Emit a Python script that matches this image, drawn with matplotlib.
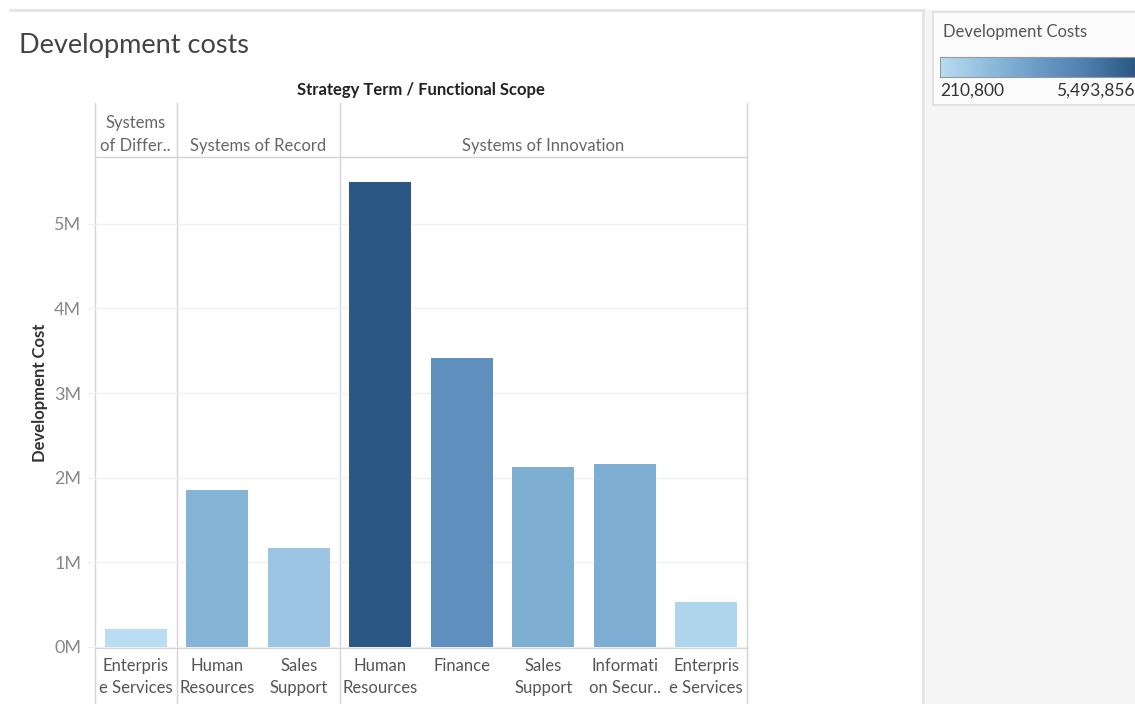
import matplotlib.pyplot as plt
import numpy as np
from matplotlib.colors import LinearSegmentedColormap, Normalize
from matplotlib.patches import Rectangle

plt.rcParams['font.family'] = ['Lato', 'DejaVu Sans']

groups = ['Systems\nof Differ..', 'Systems of Record', 'Systems of Innovation']
group_sizes = [1, 2, 5]
categories = ['Enterpris\ne Services', 'Human\nResources', 'Sales\nSupport',
              'Human\nResources', 'Finance', 'Sales\nSupport',
              'Informati\non Secur..', 'Enterpris\ne Services']
costs = [210800, 1860000, 1170000, 5493856, 3410000, 2130000, 2160000, 530000]
y_ticks = [0, 1e6, 2e6, 3e6, 4e6, 5e6]
y_tick_labels = ['0M', '1M', '2M', '3M', '4M', '5M']

W, H = 1135, 704
fig = plt.figure(figsize=(W / 100, H / 100), dpi=100)

def px(x0, y0, x1, y1):
    # pixel box (top-left origin) -> figure fraction rect
    return [x0 / W, 1 - y1 / H, (x1 - x0) / W, (y1 - y0) / H]

# blue sequential palette (Tableau-like)
cmap = LinearSegmentedColormap.from_list(
    'tblue', ['#b9ddf1', '#8fbcdc', '#6b9cc8', '#4f7fae', '#2a5783'])
norm = Normalize(vmin=min(costs), vmax=max(costs))

# background decorations
bg = fig.add_axes([0, 0, 1, 1])
bg.set_xlim(0, W)
bg.set_ylim(H, 0)
bg.axis('off')
bg.add_patch(Rectangle((925, 10), W - 925, H - 10, color='#f5f5f5', lw=0))
bg.plot([10, 923], [10, 10], color='#e3e3e3', lw=2)
bg.plot([923, 923], [10, H], color='#e3e3e3', lw=2)
bg.add_patch(Rectangle((933, 12), W - 933 + 2, 93, facecolor='#fbfbfb',
                       edgecolor='#dddddd', lw=1.2))
bg.text(19, 46, 'Development costs', fontsize=19.5, color='#444444', va='center')
bg.text(943, 32, 'Development Costs', fontsize=12, color='#555555', va='center')
bg.text(940, 91, '210,800', fontsize=12.5, color='#333333', va='center')
bg.text(1135, 91, '5,493,856', fontsize=12.5, color='#333333', va='center', ha='right')
bg.text(421, 90, 'Strategy Term / Functional Scope', fontsize=12,
        color='#222222', fontweight='bold', ha='center', va='center')
bg.text(40, 393, 'Development Cost', fontsize=12, color='#333333',
        fontweight='bold', rotation=90, ha='center', va='center')

# header cells and grid dividers
x_left, x_right, col_w = 95, 747, (747 - 95) / 8
bounds = [x_left]
for n in group_sizes:
    bounds.append(bounds[-1] + n * col_w)
for b in bounds:
    bg.plot([b, b], [103, H], color='#d4d4d4', lw=1)
bg.plot([x_left, x_right], [157, 157], color='#d4d4d4', lw=1)
for i, g in enumerate(groups):
    cx = (bounds[i] + bounds[i + 1]) / 2
    cy = 134.5 if '\n' in g else 146
    bg.text(cx, cy, g, fontsize=12, color='#666666', ha='center', va='center',
            linespacing=1.5)

# colour legend bar
cax = fig.add_axes(px(940, 57, 1135, 77))
cax.imshow(np.linspace(0, 1, 256)[None, :], aspect='auto', cmap=cmap)
cax.set_xticks([])
cax.set_yticks([])
for s in cax.spines.values():
    s.set_color('#999999')

# main bars
ax = fig.add_axes(px(x_left, 157, x_right, 648))
x = np.arange(len(costs))
ax.bar(x, costs, width=0.76, color=[cmap(norm(v)) for v in costs])
ax.set_xlim(-0.5, len(costs) - 0.5)
ax.set_ylim(-0.012e6, (648 - 157) / 84.8 * 1e6)
ax.set_yticks(y_ticks)
ax.set_yticklabels(y_tick_labels, color='#888888', fontsize=13)
ax.tick_params(axis='y', length=6, color='#eeeeee', pad=4)
ax.set_xticks(x)
ax.set_xticklabels(categories, color='#555555', fontsize=12, linespacing=1.45)
ax.tick_params(axis='x', length=0, pad=7)
ax.grid(axis='y', color='#f0f0f0', lw=1)
ax.set_axisbelow(True)
for side in ['top', 'right', 'left']:
    ax.spines[side].set_visible(False)
ax.spines['bottom'].set_color('#d4d4d4')
ax.patch.set_alpha(0)

fig.savefig('out.png', dpi=100)
